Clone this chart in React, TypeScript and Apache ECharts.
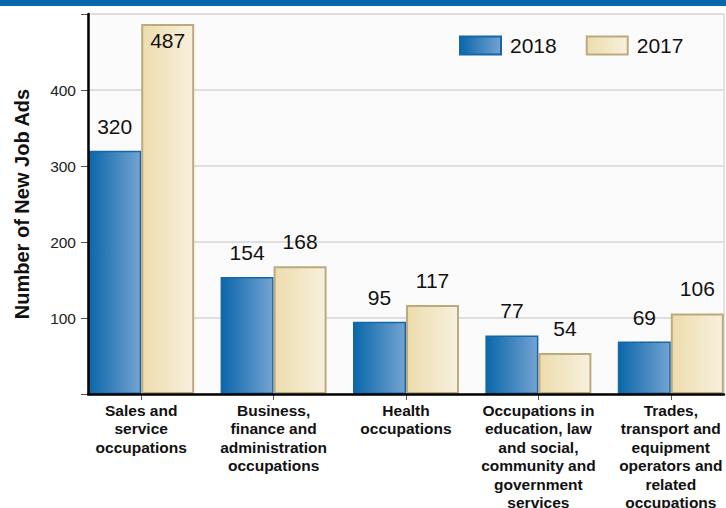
import React, { useEffect, useRef } from "react";
import * as echarts from "echarts";

const categories = [
  "Sales and\nservice\noccupations",
  "Business,\nfinance and\nadministration\noccupations",
  "Health\noccupations",
  "Occupations in\neducation, law\nand social,\ncommunity and\ngovernment\nservices",
  "Trades,\ntransport and\nequipment\noperators and\nrelated\noccupations",
];
const seriesNames = ["2018", "2017"];
const values2018 = [320, 154, 95, 77, 69];
const values2017 = [487, 168, 117, 54, 106];
const yTickLabels = [100, 200, 300, 400];
const yAxisTitle = "Number of New Job Ads";

const FONT = "'Liberation Sans', Arial, sans-serif";

export default function App() {
  const ref = useRef<HTMLDivElement>(null);
  useEffect(() => {
    document.body.style.margin = "0";
    const chart = echarts.init(ref.current!, null, { renderer: "svg" });
    const blue = new echarts.graphic.LinearGradient(0, 0, 1, 0, [
      { offset: 0, color: "#0a67aa" },
      { offset: 1, color: "#74a3d2" },
    ]);
    const beige = new echarts.graphic.LinearGradient(0, 0, 1, 0, [
      { offset: 0, color: "#eddcad" },
      { offset: 1, color: "#f7f0dd" },
    ]);
    const labelStyle = {
      show: true,
      position: "top" as const,
      distance: 14,
      fontSize: 21,
      color: "#111",
      fontFamily: FONT,
    };
    chart.setOption({
      animation: false,
      backgroundColor: "#ffffff",
      textStyle: { fontFamily: FONT },
      graphic: [
        {
          type: "rect",
          shape: { x: 0, y: 0, width: 726, height: 6 },
          style: { fill: "#0767ab" },
        },
      ],
      legend: {
        left: 454,
        top: 30,
        itemWidth: 41,
        itemHeight: 18,
        itemGap: 29,
        icon: "rect",
        data: seriesNames,
        textStyle: { fontSize: 21, color: "#111", fontFamily: FONT, padding: [0, 0, 0, 4] },
      },
      grid: [
        {
          left: 88,
          top: 14,
          width: 636,
          height: 380,
          show: true,
          outerBoundsMode: "none",
          containLabel: false,
          backgroundColor: "#fbfbfb",
          borderColor: "#c8c8c8",
          borderWidth: 1,
        },
        {
          left: 75,
          top: 14,
          width: 662,
          height: 380,
          outerBoundsMode: "none",
          containLabel: false,
        },
      ],
      xAxis: [
        {
          type: "category",
          gridIndex: 0,
          data: categories,
          z: 5,
          axisLine: { show: true, lineStyle: { color: "#000", width: 2.5 } },
          axisTick: { show: false },
          axisLabel: { show: false },
          splitLine: { show: false },
        },
        {
          type: "category",
          gridIndex: 1,
          data: categories,
          axisLine: { show: false },
          axisTick: { show: true, alignWithLabel: true, length: 6, lineStyle: { color: "#555" } },
          axisLabel: {
            interval: 0,
            margin: 7,
            fontSize: 15.5,
            fontWeight: "bold",
            lineHeight: 18.5,
            color: "#111",
            fontFamily: FONT,
          },
        },
      ],
      yAxis: [
        {
          type: "value",
          gridIndex: 0,
          min: 0,
          max: 500,
          interval: 100,
          name: yAxisTitle,
          nameLocation: "middle",
          nameGap: 56,
          nameTextStyle: { fontSize: 20, fontWeight: "bold", color: "#111", fontFamily: FONT },
          axisLine: { show: false },
          axisTick: { show: true, length: 7, lineStyle: { color: "#555" } },
          axisLabel: {
            margin: 12,
            fontSize: 15.5,
            color: "#222",
            fontFamily: FONT,
            formatter: (v: number) => (yTickLabels.includes(v) ? String(v) : ""),
          },
          splitLine: { show: true, lineStyle: { color: "#dedede", width: 2 } },
        },
        {
          type: "value",
          gridIndex: 1,
          min: 0,
          max: 500,
          interval: 100,
          offset: -13,
          z: 5,
          axisLine: { show: true, lineStyle: { color: "#000", width: 2.5 } },
          axisTick: { show: false },
          axisLabel: { show: false },
          splitLine: { show: false },
        },
      ],
      series: [
        {
          name: seriesNames[0],
          type: "bar",
          xAxisIndex: 1,
          yAxisIndex: 1,
          barWidth: 53,
          barGap: "0%",
          data: values2018,
          itemStyle: { color: blue, borderColor: "#1567a8", borderWidth: 1.5 },
          label: labelStyle,
        },
        {
          name: seriesNames[1],
          type: "bar",
          xAxisIndex: 1,
          yAxisIndex: 1,
          barWidth: 53,
          barGap: "0%",
          data: values2017.map((v, i) =>
            i === 0
              ? { value: v, label: { position: "insideTop", distance: 6 } }
              : v
          ),
          itemStyle: { color: beige, borderColor: "#bcaa7f", borderWidth: 2 },
          label: labelStyle,
        },
      ],
    });
    return () => chart.dispose();
  }, []);
  return <div ref={ref} style={{ width: 726, height: 508 }} />;
}
